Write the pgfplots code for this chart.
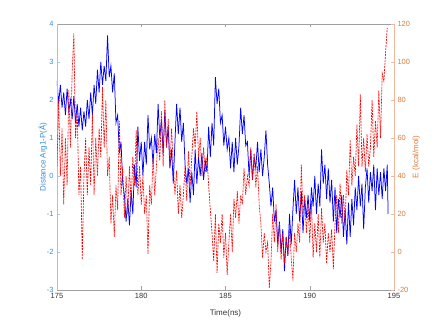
\documentclass[border=0pt]{standalone}
\usepackage{pgfplots}
\pgfplotsset{compat=1.18}
\usepackage{fontspec}
\setmainfont{Liberation Sans}
\definecolor{distBlue}{HTML}{3A8FD0}
\definecolor{distAxis}{HTML}{9CC8E8}
\definecolor{eOrange}{HTML}{E07B39}
\definecolor{eAxis}{HTML}{F2B89A}
\definecolor{frameGray}{HTML}{A0A0A0}

\pgfplotstableread{
t d
175.0 2.5
175.1 1.9
175.2 2.4
175.3 1.8
175.4 2.2
175.5 1.6
175.6 2.3
175.7 1.7
175.8 2.0
175.9 1.5
176.0 2.1
176.1 1.4
176.2 1.9
176.3 1.3
176.4 1.8
176.5 1.2
176.6 1.7
176.7 1.3
176.8 2.0
176.9 1.5
177.0 2.2
177.1 1.6
177.2 2.4
177.3 1.9
177.4 2.8
177.5 2.2
177.6 3.0
177.7 2.4
177.8 2.9
177.9 2.5
178.0 3.7
178.1 2.6
178.2 2.9
178.3 2.2
178.4 2.7
178.5 1.4
178.6 1.6
178.7 0.6
178.8 0.9
178.9 -0.2
179.0 -0.5
179.1 -1.2
179.2 -0.6
179.3 -1.3
179.4 -0.4
179.5 -1.0
179.6 0.3
179.7 -0.3
179.8 1.3
179.9 0.4
180.0 0.9
180.1 0.0
180.2 0.9
180.3 0.3
180.4 1.6
180.5 0.7
180.6 1.0
180.7 0.3
180.8 1.1
180.9 0.6
181.0 1.9
181.1 1.0
181.2 1.5
181.3 0.6
181.4 1.7
181.5 0.8
181.6 1.3
181.7 0.2
181.8 0.7
181.9 -0.2
182.0 0.9
182.1 1.9
182.2 1.1
182.3 1.8
182.4 0.9
182.5 1.4
182.6 0.3
182.7 -0.2
182.8 0.2
182.9 -0.7
183.0 0.1
183.1 -0.5
183.2 0.7
183.3 -0.2
183.4 0.5
183.5 0.0
183.6 0.6
183.7 -0.1
183.8 0.4
183.9 0.1
184.0 1.3
184.1 0.5
184.2 1.4
184.3 0.8
184.4 2.6
184.5 1.9
184.6 2.3
184.7 1.4
184.8 1.6
184.9 0.8
185.0 1.3
185.1 0.7
185.2 1.0
185.3 0.2
185.4 0.9
185.5 0.1
185.6 1.0
185.7 0.3
185.8 0.8
185.9 1.8
186.0 1.1
186.1 1.6
186.2 0.8
186.3 0.9
186.4 0.0
186.5 0.7
186.6 -0.1
186.7 0.5
186.8 0.2
186.9 0.9
187.0 0.1
187.1 0.7
187.2 0.0
187.3 0.5
187.4 1.2
187.5 0.3
187.6 -0.2
187.7 -0.8
187.8 -0.3
187.9 -1.2
188.0 -0.9
188.1 -1.8
188.2 -1.2
188.3 -2.0
188.4 -1.4
188.5 -2.5
188.6 -1.6
188.7 -2.1
188.8 -1.0
188.9 -1.8
189.0 -0.9
189.1 -0.1
189.2 -1.0
189.3 -0.3
189.4 -1.2
189.5 -0.4
189.6 -1.5
189.7 -0.6
189.8 -1.1
189.9 -0.5
190.0 -1.2
190.1 -0.3
190.2 -0.8
190.3 0.0
190.4 -1.0
190.5 -0.2
190.6 -0.8
190.7 0.7
190.8 -0.2
190.9 0.3
191.0 -0.6
191.1 0.2
191.2 -0.7
191.3 -0.1
191.4 -1.2
191.5 -0.3
191.6 -1.5
191.7 -0.6
191.8 -1.1
191.9 -0.5
192.0 -1.6
192.1 -0.9
192.2 -1.8
192.3 -0.7
192.4 -1.6
192.5 -0.6
192.6 -1.3
192.7 -0.3
192.8 -0.9
192.9 0.0
193.0 -0.8
193.1 -0.2
193.2 -1.4
193.3 -0.3
193.4 0.2
193.5 -0.7
193.6 0.1
193.7 -0.4
193.8 0.3
193.9 -0.9
194.0 0.2
194.1 -0.5
194.2 0.1
194.3 -0.6
194.4 0.2
194.5 -0.4
194.6 0.3
194.65 -1.0
}\disttable

\pgfplotstableread{
t e
175.0 45
175.1 80
175.2 40
175.3 65
175.4 25
175.5 60
175.6 35
175.7 85
175.8 55
175.9 95
176.0 115
176.1 60
176.2 75
176.3 30
176.4 45
176.5 -4
176.6 40
176.7 60
176.8 30
176.9 55
177.0 35
177.1 73
177.2 30
177.3 60
177.4 40
177.5 65
177.6 50
177.7 87
177.8 55
177.9 80
178.0 40
178.1 50
178.2 15
178.3 30
178.4 8
178.5 35
178.6 22
178.7 69
178.8 30
178.9 45
179.0 18
179.1 40
179.2 20
179.3 45
179.4 25
179.5 50
179.6 35
179.7 64
179.8 30
179.9 45
180.0 25
180.1 40
180.2 20
180.3 30
180.4 -1
180.5 35
180.6 25
180.7 50
180.8 30
180.9 45
181.0 60
181.1 48
181.2 74
181.3 45
181.4 80
181.5 55
181.6 70
181.7 45
181.8 65
181.9 46
182.0 30
182.1 43
182.2 20
182.3 35
182.4 18
182.5 30
182.6 45
182.7 27
182.8 53
182.9 35
183.0 50
183.1 65
183.2 55
183.3 74
183.4 50
183.5 60
183.6 40
183.7 55
183.8 42
183.9 50
184.0 35
184.1 22
184.2 10
184.3 -5
184.4 20
184.5 -11
184.6 15
184.7 5
184.8 20
184.9 -3
185.0 10
185.1 -12
185.2 5
185.3 20
185.4 0
185.5 28
185.6 18
185.7 32
185.8 15
185.9 30
186.0 25
186.1 44
186.2 30
186.3 40
186.4 35
186.5 55
186.6 38
186.7 52
186.8 34
186.9 45
187.0 25
187.1 15
187.2 -3
187.3 10
187.4 0
187.5 5
187.6 -19
187.7 -5
187.8 20
187.9 5
188.0 25
188.1 0
188.2 15
188.3 -4
188.4 10
188.5 -6
188.6 8
188.7 -2
188.8 12
188.9 -3
189.0 -15
189.1 10
189.2 0
189.3 15
189.4 5
189.5 46
189.6 20
189.7 30
189.8 10
189.9 25
190.0 5
190.1 27
190.2 -3
190.3 15
190.4 0
190.5 20
190.6 -3
190.7 23
190.8 5
190.9 15
191.0 -6
191.1 10
191.2 0
191.3 12
191.4 -9
191.5 15
191.6 30
191.7 10
191.8 36
191.9 15
192.0 30
192.1 15
192.2 43
192.3 30
192.4 59
192.5 35
192.6 50
192.7 40
192.8 67
192.9 45
193.0 83
193.1 45
193.2 60
193.3 42
193.4 62
193.5 45
193.6 55
193.7 80
193.8 50
193.9 69
194.0 55
194.1 85
194.2 60
194.3 94
194.4 90
194.5 105
194.6 118
}\energytable

\begin{document}
\begin{tikzpicture}
\pgfplotsset{
    common/.style={
        scale only axis,
        width=337pt,
        height=266pt,
        xmin=175, xmax=195,
        xtick={175,180,...,195},
        tick align=inside,
        major tick length=3.5pt,
        ticklabel style={font=\fontsize{7.5}{8}\selectfont},
        /pgf/number format/assume math mode=true,
        /pgf/number format/1000 sep={},
    },
}
% left axis: gray box frame, blue distance
\begin{axis}[
    common,
    name=ax,
    ymin=-3, ymax=4,
    ytick={-3,-2,...,4},
    xtick pos=both,
    ytick pos=left,
    axis line style={frameGray, line width=0.6pt},
    xtick style={frameGray},
    ytick style={distAxis},
    xticklabel style={text=black!80},
    yticklabel style={text=distBlue},
    xlabel={Time(ns)},
    xlabel style={font=\fontsize{8}{9}\selectfont, text=black!80, at={(axis description cs:0.5,-0.087)}, anchor=center},
    ylabel={Distance Arg1-P(Å)},
    ylabel style={font=\fontsize{8}{9}\selectfont, text=distBlue, at={(axis description cs:-0.042,0.5)}, anchor=center},
]
\addplot[blue, line width=0.75pt] table[x=t, y=d] {\disttable};
\draw[distAxis, line width=0.6pt] (rel axis cs:0,0) -- (rel axis cs:0,1);
\end{axis}

% right axis: red energy
\begin{axis}[
    common,
    ymin=-20, ymax=120,
    ytick={-20,0,...,120},
    axis x line=none,
    axis y line*=right,
    y axis line style={eAxis, line width=0.6pt, -},
    ytick style={eAxis},
    yticklabel style={text=eOrange},
    ylabel={E (kcal/mol)},
    ylabel style={font=\fontsize{8}{9}\selectfont, text=eOrange, at={(axis description cs:1.066,0.5)}, anchor=center, rotate=0},
]
\addplot[red, line width=0.65pt, dash pattern=on 2pt off 1pt] table[x=t, y=e] {\energytable};
\end{axis}

\path ([xshift=-57pt, yshift=-37pt]ax.south west) rectangle ([xshift=42pt, yshift=24pt]ax.north east);
\end{tikzpicture}
\end{document}
